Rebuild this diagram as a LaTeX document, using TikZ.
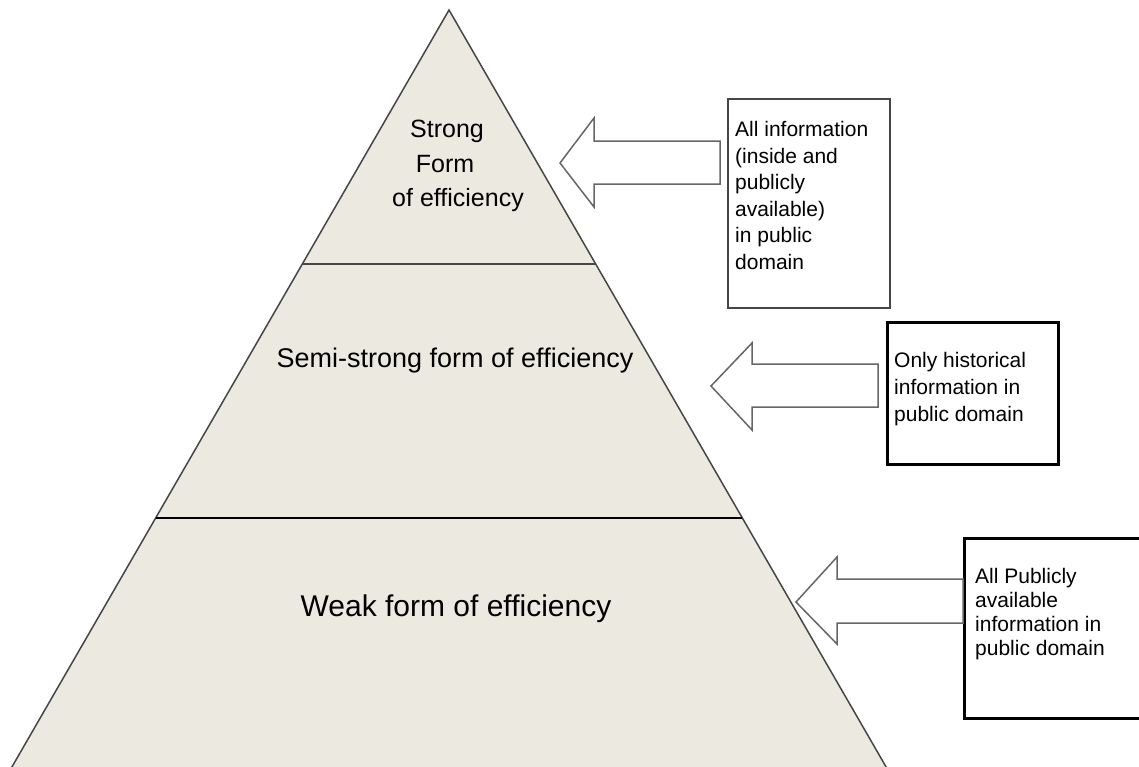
\documentclass[tikz,border=0pt]{standalone}
\usepackage{fontspec}
\setmainfont{Liberation Sans}
\usetikzlibrary{calc}

\definecolor{pyrfill}{RGB}{236,234,224}
\definecolor{pyrline}{RGB}{70,70,70}

\begin{document}
\begin{tikzpicture}[x=1pt, y=-1pt,
    level/.style={font=\fontsize{27}{34.5}\selectfont, align=center, inner sep=0pt},
    infobox/.style={draw, anchor=north west, inner sep=0pt},
    infotext/.style={font=\fontsize{21}{26.6}\selectfont, align=left, anchor=north west, inner sep=0pt},
    blockarrow/.style={draw=black!60, fill=white, line width=1.5pt, line join=miter}]
    \useasboundingbox (0,0) rectangle (1139,766);
    \fill[white] (0,0) rectangle (1139,766);
    \clip (0,0) rectangle (1139,766);

    % Piramide (base fuera de la imagen)
    \coordinate (apex) at (449,10);
    \coordinate (bl) at (-1.4,790);
    \coordinate (br) at (899.4,790);
    \fill[pyrfill] (apex) -- (bl) -- (br) -- cycle;
    \draw[pyrline, line width=1.5pt] (bl) -- (apex) -- (br);

    % Divisiones entre niveles
    \coordinate (d1l) at ($(apex)!0.3256!(bl)$);
    \coordinate (d1r) at ($(apex)!0.3256!(br)$);
    \coordinate (d2l) at ($(apex)!0.6513!(bl)$);
    \coordinate (d2r) at ($(apex)!0.6513!(br)$);
    \draw[pyrline, line width=2pt] (d1l) -- (d1r);
    \draw[black, line width=2pt] (d2l) -- (d2r);

    \node[level, font=\fontsize{25}{34.5}\selectfont] (strong) at (458,166)
        {Strong\rule{22pt}{0pt}\\Form\rule{26pt}{0pt}\\of efficiency};
    \node[level, anchor=base] (semi) at (455,367) {Semi-strong form of efficiency};
    \node[level, anchor=base, font=\fontsize{30}{36}\selectfont] (weak) at (456,616) {Weak form of efficiency};

    % Cajas de informacion
    \node[infobox, draw=pyrline, line width=1.5pt, minimum width=162pt, minimum height=209pt] (box1) at (727,98) {};
    \node[infotext] (info1) at ($(box1.north west)+(8,23)$) {All information\\(inside and\\publicly\\available)\\in public\\domain};

    \node[infobox, line width=2.5pt, minimum width=171pt, minimum height=142pt] (box2) at (886,321) {};
    \node[infotext] (info2) at ($(box2.north west)+(8,31.5)$) {Only historical\\information in\\public domain};

    \node[infobox, line width=2.5pt, minimum width=200pt, minimum height=180pt] (box3) at (963,537) {};
    \node[infotext, font=\fontsize{21}{24}\selectfont] (info3) at ($(box3.north west)+(12,31.5)$) {All Publicly\\available\\information in\\public domain};

    % Flechas hacia la piramide
    \draw[blockarrow] (560,163) -- (594,118) -- (594,141) -- (720,141) -- (720,184) -- (594,184) -- (594,207) -- cycle;
    \draw[blockarrow] (711,386) -- (752,343) -- (752,364) -- (878,364) -- (878,407) -- (752,407) -- (752,430) -- cycle;
    \draw[blockarrow] (796,602) -- (837,557) -- (837,579) -- (box3.west |- 0,579) -- (box3.west |- 0,623) -- (837,623) -- (837,644) -- cycle;
\end{tikzpicture}
\end{document}
